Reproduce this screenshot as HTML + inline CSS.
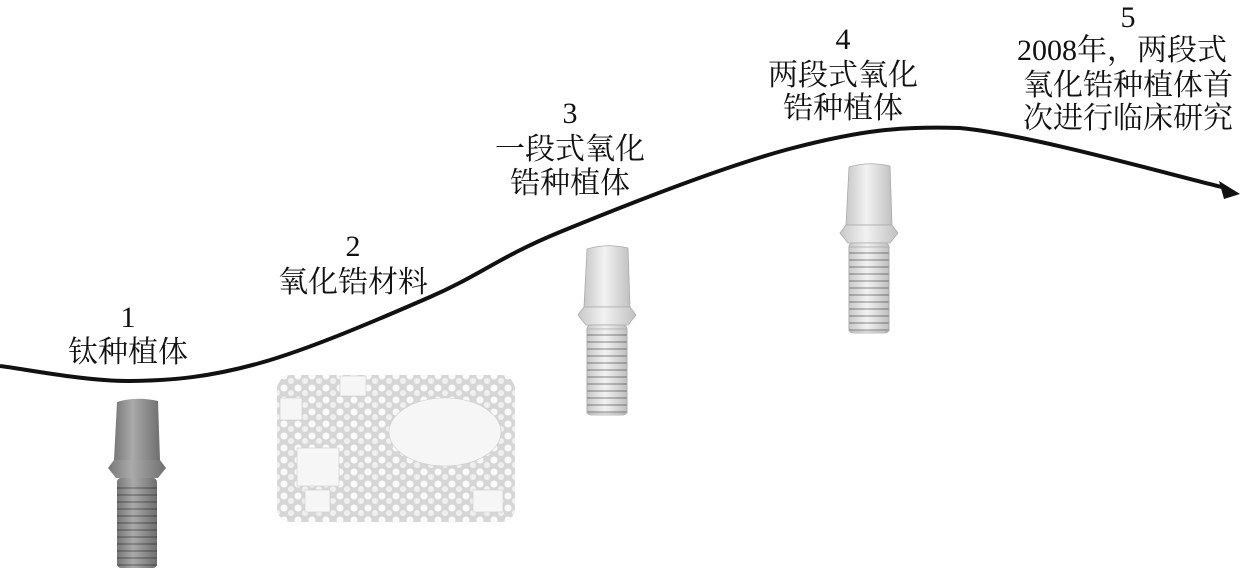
<!DOCTYPE html>
<html><head><meta charset="utf-8"><style>
html,body{margin:0;padding:0;background:#fff}
svg{display:block}
text{font-family:"Liberation Serif","Noto Serif CJK SC","Noto Sans CJK SC",serif;font-size:30px;fill:#111}
</style></head><body>
<svg width="1250" height="583" viewBox="0 0 1250 583" xmlns="http://www.w3.org/2000/svg">
<defs>
<linearGradient id="gd" x1="0" x2="1"><stop offset="0" stop-color="#777"/><stop offset=".4" stop-color="#aaa"/><stop offset="1" stop-color="#6f6f6f"/></linearGradient>
<linearGradient id="gl" x1="0" x2="1"><stop offset="0" stop-color="#c8c8c8"/><stop offset=".45" stop-color="#f2f2f2"/><stop offset="1" stop-color="#c0c0c0"/></linearGradient>
<pattern id="th" width="10" height="7" patternUnits="userSpaceOnUse"><rect y="5" width="10" height="2" fill="#000" opacity=".22"/></pattern>
<pattern id="dots" width="14" height="12" patternUnits="userSpaceOnUse"><circle cx="4" cy="4" r="3.5" fill="#fafafa"/><circle cx="11" cy="9" r="3" fill="#f0f0f0"/></pattern>
<g id="imp">
<path d="M9 4 Q28 -2 50 3 L52 62 L6 62 Z"/>
<path d="M6 62 L52 62 L58 70 L50 80 L8 80 L0 70 Z"/>
<rect x="9" y="80" width="40" height="90" rx="4"/>
<rect x="9" y="84" width="40" height="84" fill="url(#th)"/>
</g>
</defs>
<path d="M0 366 C21.7 368.5 86.7 381.5 130 381 C173.3 380.5 210 377 260 363 C310 349 380 318.8 430 297 C480 275.2 499.5 256.8 560 232 C620.5 207.2 726.3 165.3 793 148 C859.7 130.7 900 126 960 128 C1032 134.7 1181.7 178 1226 188" fill="none" stroke="#111" stroke-width="4"/>
<polygon points="1240,194 1219,181 1224,199" fill="#111"/>
<use href="#imp" x="108" y="398" fill="url(#gd)"/>
<use href="#imp" x="578" y="245" fill="url(#gl)" stroke="#aaa" stroke-width=".8"/>
<use href="#imp" x="840" y="163" fill="url(#gl)" stroke="#aaa" stroke-width=".8"/>
<rect x="277" y="375" width="238" height="147" rx="14" fill="#d6d6d6"/>
<rect x="277" y="375" width="238" height="147" rx="14" fill="url(#dots)"/>
<g fill="#f6f6f6" stroke="#ccc" stroke-width=".6">
<rect x="297" y="448" width="42" height="38"/>
<rect x="280" y="398" width="22" height="22"/>
<rect x="340" y="376" width="26" height="20"/>
<ellipse cx="445" cy="432" rx="56" ry="34"/>
<rect x="473" y="490" width="30" height="22"/>
<rect x="305" y="490" width="25" height="22"/>
</g>
<g text-anchor="middle">
<text x="128" y="327">1</text><text x="128" y="362">钛种植体</text>
<text x="353" y="256">2</text><text x="353" y="292">氧化锆材料</text>
<text x="570" y="123">3</text><text x="570" y="159">一段式氧化</text><text x="570" y="193">锆种植体</text>
<text x="843" y="49">4</text><text x="843" y="85">两段式氧化</text><text x="843" y="118">锆种植体</text>
<text x="1128" y="27">5</text><text x="1122" y="60">2008年，两段式</text><text x="1128" y="95">氧化锆种植体首</text><text x="1128" y="128">次进行临床研究</text>
</g>
</svg>
</body></html>
